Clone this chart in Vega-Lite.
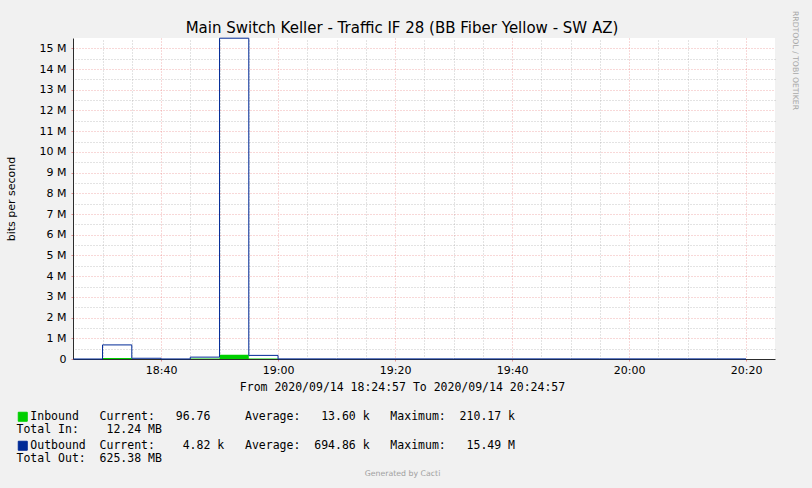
{
  "$schema": "https://vega.github.io/schema/vega-lite/v6.json",
  "width": 702,
  "height": 321,
  "autosize": {"type": "none"},
  "padding": {"left": 73, "top": 38, "right": 37, "bottom": 129},
  "background": "#F1F1F1",
  "title": {
    "text": "Main Switch Keller - Traffic IF 28 (BB Fiber Yellow - SW AZ)",
    "font": "DejaVu Sans",
    "fontSize": 15,
    "fontWeight": "normal",
    "color": "#000000",
    "anchor": "middle",
    "frame": "group",
    "dx": -22,
    "dy": 32,
    "offset": 6
  },
  "data": {
    "values": [
      {"t": "2020-09-14T18:25:00", "series": "Outbound", "bps": 0},
      {"t": "2020-09-14T18:30:00", "series": "Outbound", "bps": 680000},
      {"t": "2020-09-14T18:35:00", "series": "Outbound", "bps": 35000},
      {"t": "2020-09-14T18:40:00", "series": "Outbound", "bps": 3000},
      {"t": "2020-09-14T18:45:00", "series": "Outbound", "bps": 90000},
      {"t": "2020-09-14T18:50:00", "series": "Outbound", "bps": 15490000},
      {"t": "2020-09-14T18:55:00", "series": "Outbound", "bps": 175000},
      {"t": "2020-09-14T19:00:00", "series": "Outbound", "bps": 5200},
      {"t": "2020-09-14T19:05:00", "series": "Outbound", "bps": 4900},
      {"t": "2020-09-14T19:10:00", "series": "Outbound", "bps": 5100},
      {"t": "2020-09-14T19:15:00", "series": "Outbound", "bps": 4700},
      {"t": "2020-09-14T19:20:00", "series": "Outbound", "bps": 5000},
      {"t": "2020-09-14T19:25:00", "series": "Outbound", "bps": 4800},
      {"t": "2020-09-14T19:30:00", "series": "Outbound", "bps": 5300},
      {"t": "2020-09-14T19:35:00", "series": "Outbound", "bps": 4900},
      {"t": "2020-09-14T19:40:00", "series": "Outbound", "bps": 5000},
      {"t": "2020-09-14T19:45:00", "series": "Outbound", "bps": 4600},
      {"t": "2020-09-14T19:50:00", "series": "Outbound", "bps": 5100},
      {"t": "2020-09-14T19:55:00", "series": "Outbound", "bps": 4900},
      {"t": "2020-09-14T20:00:00", "series": "Outbound", "bps": 5000},
      {"t": "2020-09-14T20:05:00", "series": "Outbound", "bps": 4800},
      {"t": "2020-09-14T20:10:00", "series": "Outbound", "bps": 5200},
      {"t": "2020-09-14T20:15:00", "series": "Outbound", "bps": 4820},
      {"t": "2020-09-14T20:20:00", "series": "Outbound", "bps": 4820},
      {"t": "2020-09-14T18:25:00", "series": "Inbound", "bps": 0},
      {"t": "2020-09-14T18:30:00", "series": "Inbound", "bps": 50000},
      {"t": "2020-09-14T18:35:00", "series": "Inbound", "bps": 6000},
      {"t": "2020-09-14T18:40:00", "series": "Inbound", "bps": 800},
      {"t": "2020-09-14T18:45:00", "series": "Inbound", "bps": 20000},
      {"t": "2020-09-14T18:50:00", "series": "Inbound", "bps": 210170},
      {"t": "2020-09-14T18:55:00", "series": "Inbound", "bps": 30000},
      {"t": "2020-09-14T19:00:00", "series": "Inbound", "bps": 110},
      {"t": "2020-09-14T19:05:00", "series": "Inbound", "bps": 95},
      {"t": "2020-09-14T19:10:00", "series": "Inbound", "bps": 120},
      {"t": "2020-09-14T19:15:00", "series": "Inbound", "bps": 100},
      {"t": "2020-09-14T19:20:00", "series": "Inbound", "bps": 90},
      {"t": "2020-09-14T19:25:00", "series": "Inbound", "bps": 105},
      {"t": "2020-09-14T19:30:00", "series": "Inbound", "bps": 98},
      {"t": "2020-09-14T19:35:00", "series": "Inbound", "bps": 110},
      {"t": "2020-09-14T19:40:00", "series": "Inbound", "bps": 100},
      {"t": "2020-09-14T19:45:00", "series": "Inbound", "bps": 92},
      {"t": "2020-09-14T19:50:00", "series": "Inbound", "bps": 104},
      {"t": "2020-09-14T19:55:00", "series": "Inbound", "bps": 99},
      {"t": "2020-09-14T20:00:00", "series": "Inbound", "bps": 101},
      {"t": "2020-09-14T20:05:00", "series": "Inbound", "bps": 96},
      {"t": "2020-09-14T20:10:00", "series": "Inbound", "bps": 103},
      {"t": "2020-09-14T20:15:00", "series": "Inbound", "bps": 96.76},
      {"t": "2020-09-14T20:20:00", "series": "Inbound", "bps": 96.76}
    ]
  },
  "config": {
    "view": {"stroke": null, "fill": "#FFFFFF"},
    "font": "DejaVu Sans",
    "axis": {
      "labelFont": "DejaVu Sans",
      "labelFontSize": 11,
      "labelColor": "#000000",
      "titleFont": "DejaVu Sans",
      "titleFontWeight": "normal",
      "titleColor": "#000000",
      "labelOverlap": false,
      "labelFlush": false
    }
  },
  "resolve": {"axis": {"x": "independent", "y": "independent"}},
  "layer": [
    {
      "transform": [{"filter": "datum.series == 'Inbound'"}],
      "mark": {"type": "area", "interpolate": "step-after", "opacity": 1},
      "encoding": {
        "x": {
          "field": "t",
          "type": "temporal",
          "scale": {"domain": [
            {"year": 2020, "month": 9, "date": 14, "hours": 18, "minutes": 24, "seconds": 57},
            {"year": 2020, "month": 9, "date": 14, "hours": 20, "minutes": 24, "seconds": 57}
          ]},
          "axis": {
            "orient": "bottom",
            "values": [
              {"year": 2020, "month": 9, "date": 14, "hours": 18, "minutes": 40},
              {"year": 2020, "month": 9, "date": 14, "hours": 19, "minutes": 0},
              {"year": 2020, "month": 9, "date": 14, "hours": 19, "minutes": 20},
              {"year": 2020, "month": 9, "date": 14, "hours": 19, "minutes": 40},
              {"year": 2020, "month": 9, "date": 14, "hours": 20, "minutes": 0},
              {"year": 2020, "month": 9, "date": 14, "hours": 20, "minutes": 20}
            ],
            "format": "%H:%M",
            "grid": true,
            "gridColor": "#DE4F4F",
            "gridOpacity": 0.45,
            "gridDash": [1, 2],
            "ticks": true,
            "tickSize": 2,
            "tickColor": "#DE4F4F",
            "tickOpacity": 0.6,
            "domain": true,
            "domainColor": "#2C2C2C",
            "labelPadding": 3,
            "title": "From 2020/09/14 18:24:57 To 2020/09/14 20:24:57",
            "titleFont": "DejaVu Sans Mono",
            "titleFontSize": 11.5,
            "titleX": 329,
            "titleY": 28,
            "titleBaseline": "middle",
            "titleAlign": "center"
          }
        },
        "y": {
          "field": "bps",
          "type": "quantitative",
          "scale": {"domain": [0, 15500000], "nice": false, "zero": true},
          "axis": {
            "orient": "left",
            "values": [0, 1000000, 2000000, 3000000, 4000000, 5000000, 6000000, 7000000, 8000000, 9000000, 10000000, 11000000, 12000000, 13000000, 14000000, 15000000],
            "labelExpr": "datum.value == 0 ? '0' : format(datum.value / 1000000, 'd') + ' M'",
            "grid": true,
            "gridColor": "#DE4F4F",
            "gridOpacity": 0.45,
            "gridDash": [1, 2],
            "ticks": true,
            "tickSize": 2,
            "tickColor": "#DE4F4F",
            "tickOpacity": 0.6,
            "domain": true,
            "domainColor": "#2C2C2C",
            "labelPadding": 5,
            "title": "bits per second",
            "titleFontSize": 11,
            "titleAngle": 270,
            "titleX": -62,
            "titleY": 160.5,
            "titleBaseline": "middle",
            "titleAlign": "center"
          }
        },
        "color": {
          "field": "series",
          "type": "nominal",
          "scale": {"domain": ["Inbound", "Outbound"], "range": ["#00CF00", "#002A97"]},
          "legend": {
            "orient": "none",
            "legendX": -56,
            "legendY": 373,
            "title": null,
            "direction": "vertical",
            "padding": 0,
            "rowPadding": 3,
            "symbolType": "square",
            "symbolSize": 81,
            "symbolStrokeWidth": 1,
            "symbolStrokeColor": "#222222",
            "labelFont": "DejaVu Sans Mono",
            "labelFontSize": 11.5,
            "labelColor": "#000000",
            "labelLimit": 0,
            "labelOffset": -12,
            "labelExpr": "datum.label == 'Inbound' ? ['\u200b\u00a0\u00a0Inbound\u00a0\u00a0\u00a0Current:\u00a0\u00a0\u00a096.76\u00a0\u00a0\u00a0\u00a0\u00a0Average:\u00a0\u00a0\u00a013.60\u00a0k\u00a0\u00a0\u00a0Maximum:\u00a0\u00a0210.17\u00a0k', 'Total\u00a0In:\u00a0\u00a0\u00a0\u00a012.24\u00a0MB'] : ['\u200b\u00a0\u00a0Outbound\u00a0\u00a0Current:\u00a0\u00a0\u00a0\u00a04.82\u00a0k\u00a0\u00a0\u00a0Average:\u00a0\u00a0694.86\u00a0k\u00a0\u00a0\u00a0Maximum:\u00a0\u00a0\u00a015.49\u00a0M', 'Total\u00a0Out:\u00a0\u00a0625.38\u00a0MB']",
            "encode": {
              "symbols": {"update": {"fill": {"scale": "color", "field": "value"}, "stroke": {"value": "#222222"}, "strokeWidth": {"value": 1}, "opacity": {"value": 1}}},
              "labels": {"update": {"dy": {"value": 7}, "lineHeight": {"value": 14}}}
            }
          }
        }
      }
    },
    {
      "transform": [{"filter": "datum.series == 'Outbound'"}],
      "mark": {"type": "line", "interpolate": "step-after", "strokeWidth": 1},
      "encoding": {
        "x": {
          "field": "t",
          "type": "temporal",
          "axis": {
            "orient": "top",
            "values": [
              {"year": 2020, "month": 9, "date": 14, "hours": 18, "minutes": 30},
              {"year": 2020, "month": 9, "date": 14, "hours": 18, "minutes": 35},
              {"year": 2020, "month": 9, "date": 14, "hours": 18, "minutes": 45},
              {"year": 2020, "month": 9, "date": 14, "hours": 18, "minutes": 50},
              {"year": 2020, "month": 9, "date": 14, "hours": 18, "minutes": 55},
              {"year": 2020, "month": 9, "date": 14, "hours": 19, "minutes": 5},
              {"year": 2020, "month": 9, "date": 14, "hours": 19, "minutes": 10},
              {"year": 2020, "month": 9, "date": 14, "hours": 19, "minutes": 15},
              {"year": 2020, "month": 9, "date": 14, "hours": 19, "minutes": 25},
              {"year": 2020, "month": 9, "date": 14, "hours": 19, "minutes": 30},
              {"year": 2020, "month": 9, "date": 14, "hours": 19, "minutes": 35},
              {"year": 2020, "month": 9, "date": 14, "hours": 19, "minutes": 45},
              {"year": 2020, "month": 9, "date": 14, "hours": 19, "minutes": 50},
              {"year": 2020, "month": 9, "date": 14, "hours": 19, "minutes": 55},
              {"year": 2020, "month": 9, "date": 14, "hours": 20, "minutes": 5},
              {"year": 2020, "month": 9, "date": 14, "hours": 20, "minutes": 10},
              {"year": 2020, "month": 9, "date": 14, "hours": 20, "minutes": 15}
            ],
            "labels": false,
            "ticks": false,
            "domain": false,
            "grid": true,
            "gridColor": "#8F8F8F",
            "gridOpacity": 0.5,
            "gridDash": [1, 2],
            "title": "Generated by Cacti",
            "titleFont": "DejaVu Sans",
            "titleFontSize": 7.8,
            "titleColor": "#A0A0A0",
            "titleX": 329,
            "titleY": 435,
            "titleBaseline": "middle",
            "titleAlign": "center"
          }
        },
        "y": {
          "field": "bps",
          "type": "quantitative",
          "axis": {
            "orient": "right",
            "values": [500000, 1500000, 2500000, 3500000, 4500000, 5500000, 6500000, 7500000, 8500000, 9500000, 10500000, 11500000, 12500000, 13500000, 14500000],
            "labels": false,
            "ticks": false,
            "domain": false,
            "grid": true,
            "gridColor": "#8F8F8F",
            "gridOpacity": 0.5,
            "gridDash": [1, 2],
            "title": "RRDTOOL / TOBI OETIKER",
            "titleFont": "DejaVu Sans",
            "titleFontSize": 7.7,
            "titleColor": "#A8A8A8",
            "titleAngle": 90,
            "titleX": 19,
            "titleY": 22,
            "titleBaseline": "middle",
            "titleAlign": "center"
          }
        },
        "color": {"field": "series", "type": "nominal"}
      }
    }
  ]
}
